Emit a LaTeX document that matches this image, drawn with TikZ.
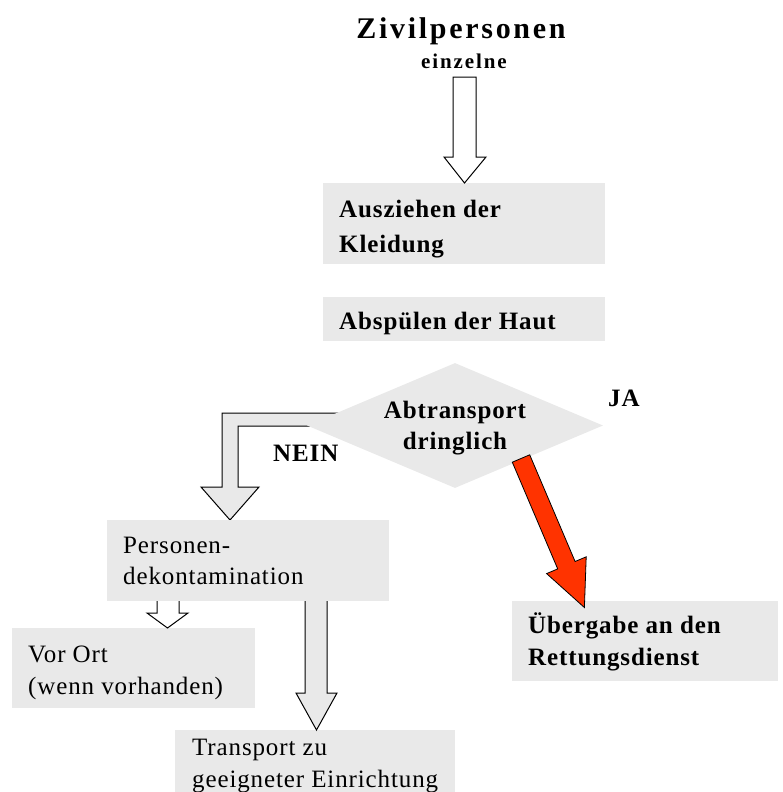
\documentclass[tikz,border=0pt]{standalone}
\usepackage{fontspec}
\setmainfont{Liberation Serif}[LetterSpace=3.5]
\usetikzlibrary{shapes.geometric,backgrounds}
\definecolor{boxgray}{RGB}{233,233,233}
\definecolor{redarrow}{RGB}{255,51,0}
\begin{document}
\begin{tikzpicture}[x=1pt,y=-1pt,
  box/.style={fill=boxgray, draw=none, inner sep=0, anchor=north west},
  txt/.style={anchor=base west, inner sep=0, font=\fontsize{25}{30}\selectfont},
  btxt/.style={txt, font=\bfseries\fontsize{25}{30}\selectfont},
  blockarrow/.style={line width=1pt, draw=black, line join=miter},
]
\useasboundingbox (0,0) rectangle (782,792);

% titles
\node[anchor=base, inner sep=0, font=\bfseries\fontsize{30}{34}\selectfont\addfontfeature{LetterSpace=9}] (title) at (461,38) {Zivilpersonen};
\node[anchor=base, inner sep=0, font=\bfseries\fontsize{21}{25}\selectfont\addfontfeature{LetterSpace=9}] (sub) at (464,68) {einzelne};

% boxes
\node[box, minimum width=282pt, minimum height=81pt] (b1) at (323,183) {};
\node[box, minimum width=282pt, minimum height=44pt] (b2) at (323,297) {};
\node[box, minimum width=282pt, minimum height=81pt] (b3) at (107,520) {};
\node[box, minimum width=243pt, minimum height=80pt] (b4) at (12,628) {};
\node[box, minimum width=280pt, minimum height=62pt] (b5) at (175,730) {};
\node[box, minimum width=266pt, minimum height=80pt] (b6) at (512,601) {};

% decision diamond
\node[diamond, fill=boxgray, inner sep=0, aspect=2.368, minimum width=296pt, minimum height=125pt] (dia) at (455,425.5) {};

% NEIN arrow (behind the diamond)
\begin{pgfonlayer}{background}
\filldraw[blockarrow, fill=boxgray] (370,413) -- (222,413) -- (222,487) -- (201,487) -- (230,520) -- (259,487) -- (238,487) -- (238,426) -- (370,426) -- cycle;
\end{pgfonlayer}

% top arrow
\filldraw[blockarrow, fill=white] (453,77) -- (453,157) -- (444,157) -- (464.5,183) -- (486,157) -- (476,157) -- (476,77) -- cycle;

% arrow to Vor Ort
\filldraw[blockarrow, fill=white] (157,601) -- (157,613) -- (147,613) -- (167.5,628) -- (188,613) -- (179,613) -- (179,601);

% arrow to Transport
\filldraw[blockarrow, fill=boxgray] (305,601) -- (305,693) -- (296,693) -- (316.5,730) -- (337,693) -- (327,693) -- (327,601);

% red arrow (JA)
\filldraw[line width=0.8pt, draw=black, fill=redarrow, line join=miter]
  (529.7,454.8) -- (575.1,561.5) -- (586.2,556.8) -- (584.4,607.5) -- (546.6,573.6) -- (557.7,568.9) -- (512.3,462.2) -- cycle;

% texts
\node[btxt] (t1a) at (339,217) {Ausziehen der};
\node[btxt] (t1b) at (339,252) {Kleidung};
\node[btxt] (t2) at (339,329) {Abspülen der Haut};
\node[btxt, anchor=base] (d1) at (455,418) {Abtransport};
\node[btxt, anchor=base] (d2) at (455,449) {dringlich};
\node[btxt] (ja) at (608,406) {JA};
\node[btxt] (nein) at (273,461) {NEIN};
\node[txt] (t3a) at (123,553) {Personen-};
\node[txt] (t3b) at (123,584) {dekontamination};
\node[txt] (t4a) at (28,662) {Vor Ort};
\node[txt] (t4b) at (28,694) {(wenn vorhanden)};
\node[txt] (t5a) at (192,755) {Transport zu};
\node[txt] (t5b) at (192,787) {geeigneter Einrichtung};
\node[btxt] (t6a) at (528,633) {Übergabe an den};
\node[btxt] (t6b) at (528,665) {Rettungsdienst};
\end{tikzpicture}
\end{document}
